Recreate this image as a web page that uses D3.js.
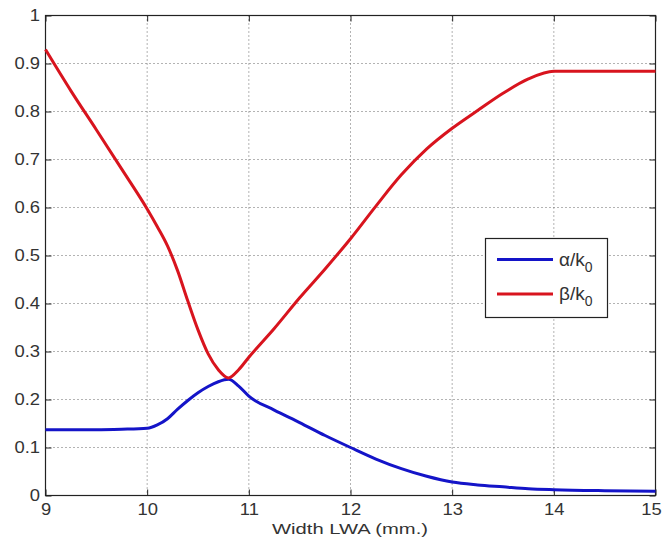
<!DOCTYPE html>
<html>
<head>
<meta charset="utf-8">
<script src="https://cdn.jsdelivr.net/npm/d3@7"></script>
<style>
  body { margin: 0; background: #fff; }
  svg { display: block; }
  text { font-family: "Liberation Sans", Arial, sans-serif; fill: #333; }
</style>
</head>
<body>
<svg id="chart" width="663" height="551"></svg>
<script>
// Data
const widthX = [9, 9.25, 9.5, 9.75, 10, 10.1, 10.2, 10.3, 10.4, 10.5, 10.6, 10.7, 10.8, 10.9, 11, 11.25, 11.5, 11.75, 12, 12.25, 12.5, 12.75, 13, 13.25, 13.5, 13.75, 14, 14.5, 15];
const betaK0 = [0.929, 0.843, 0.762, 0.68, 0.597, 0.56, 0.52, 0.468, 0.405, 0.345, 0.295, 0.262, 0.245, 0.262, 0.288, 0.348, 0.412, 0.472, 0.535, 0.603, 0.668, 0.722, 0.765, 0.802, 0.838, 0.868, 0.884, 0.884, 0.884];
const alphaK0 = [0.137, 0.137, 0.137, 0.138, 0.14, 0.147, 0.16, 0.18, 0.198, 0.214, 0.227, 0.237, 0.242, 0.228, 0.207, 0.178, 0.152, 0.125, 0.1, 0.076, 0.056, 0.04, 0.028, 0.022, 0.018, 0.014, 0.012, 0.01, 0.009];
const xTicks = [9, 10, 11, 12, 13, 14, 15];
const yTicks = [0, 0.1, 0.2, 0.3, 0.4, 0.5, 0.6, 0.7, 0.8, 0.9, 1];
const seriesNames = ["α/k", "β/k"];
const seriesColors = ["#1414c8", "#d8141e"];
const xLabel = "Width LWA  (mm.)";

const svg = d3.select("#chart");
const L = 45.5, R = 655.5, T = 15.5, B = 495.5;
const x = d3.scaleLinear().domain([9, 15]).range([L, R]);
const y = d3.scaleLinear().domain([0, 1]).range([B, T]);
const sx = 1.15;

// grid
const grid = svg.append("g");
grid.selectAll(".vg").data(xTicks.slice(1, -1)).join("line")
  .attr("x1", d => x(d)).attr("x2", d => x(d)).attr("y1", T).attr("y2", B)
  .attr("stroke", "#666").attr("stroke-width", 1).attr("stroke-dasharray", "1,3");
grid.selectAll(".hg").data(yTicks.slice(1, -1)).join("line")
  .attr("x1", L).attr("x2", R).attr("y1", d => y(d)).attr("y2", d => y(d))
  .attr("stroke", "#666").attr("stroke-width", 1).attr("stroke-dasharray", "1,3");

// axes (ticks pointing inward)
const tickLen = 6;
const axB = svg.append("g").attr("transform", `translate(0,${B})`)
  .call(d3.axisBottom(x).tickValues(xTicks).tickFormat(d3.format("d")).tickSizeInner(-tickLen).tickSizeOuter(0).tickPadding(8));
const axL = svg.append("g").attr("transform", `translate(${L},0)`)
  .call(d3.axisLeft(y).tickValues(yTicks).tickFormat(d => d === 0 ? "0" : d === 1 ? "1" : d3.format(".1f")(d)).tickSizeInner(-tickLen).tickSizeOuter(0).tickPadding(5));
const axT = svg.append("g").attr("transform", `translate(0,${T})`)
  .call(d3.axisTop(x).tickValues(xTicks).tickFormat("").tickSizeInner(-tickLen).tickSizeOuter(0));
const axR = svg.append("g").attr("transform", `translate(${R},0)`)
  .call(d3.axisRight(y).tickValues(yTicks).tickFormat("").tickSizeInner(-tickLen).tickSizeOuter(0));
[axB, axL, axT, axR].forEach(a => {
  a.select(".domain").remove();
  a.selectAll(".tick line").attr("stroke", "#222");
  a.selectAll("text").attr("font-size", 16).attr("fill", "#333")
    .style("font-family", "'Liberation Sans', Arial, sans-serif");
});
axL.selectAll("text").attr("x", -5.5 / sx).attr("transform", `scale(${sx},1)`);
axB.selectAll("text").attr("transform", `scale(${sx},1)`);
axB.selectAll(".tick").filter(d => d === 15).select("text").attr("dx", -4);

// frame
svg.append("rect").attr("x", L).attr("y", T).attr("width", R - L).attr("height", B - T)
  .attr("fill", "none").attr("stroke", "#222").attr("stroke-width", 1.2);

// lines
const line = d3.line().x((d, i) => x(widthX[i])).y(d => y(d)).curve(d3.curveMonotoneX);
[alphaK0, betaK0].forEach((s, k) => {
  svg.append("path").attr("d", line(s)).attr("fill", "none")
    .attr("stroke", seriesColors[k]).attr("stroke-width", 3).attr("stroke-linejoin", "round");
});

// x label
svg.append("text").attr("x", 350).attr("y", 534).attr("text-anchor", "middle")
  .attr("font-size", 15).attr("textLength", 156).attr("lengthAdjust", "spacingAndGlyphs").text(xLabel);

// legend
const lg = svg.append("g");
lg.append("rect").attr("x", 485.5).attr("y", 238.5).attr("width", 122).attr("height", 79)
  .attr("fill", "#fff").attr("stroke", "#222").attr("stroke-width", 1.2);
const ly = [259.5, 294];
seriesNames.forEach((n, k) => {
  lg.append("line").attr("x1", 497).attr("x2", 553).attr("y1", ly[k]).attr("y2", ly[k])
    .attr("stroke", seriesColors[k]).attr("stroke-width", 3);
  const t = lg.append("text").attr("x", 559).attr("y", ly[k] + 6).attr("font-size", 19);
  t.append("tspan").text(n);
  t.append("tspan").attr("font-size", 14).attr("dy", 6).text("0");
});
</script>
</body>
</html>
